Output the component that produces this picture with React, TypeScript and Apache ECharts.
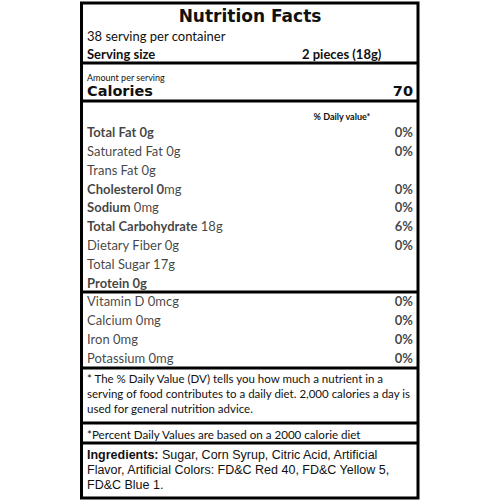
import { useEffect, useRef } from "react";
import * as echarts from "echarts";

// header texts
const title = "Nutrition Facts";
const servingsLine = "38 serving per container";
const servingSize = ["Serving size", "2 pieces (18g)"];
const amountLabel = "Amount per serving";
const calories = ["Calories", "70"];
const dvHeader = "% Daily value*";

// nutrient rows: bold part, regular part, % daily value
const nutrientBold = ["Total Fat 0g", "", "", "Cholesterol 0", "Sodium", "Total Carbohydrate", "", "", "Protein 0g", "", "", "", ""];
const nutrientRest = ["", "Saturated Fat 0g", "Trans Fat 0g", "mg", "0mg", "18g", "Dietary Fiber 0g", "Total Sugar 17g", "", "Vitamin D 0mcg", "Calcium 0mg", "Iron 0mg", "Potassium 0mg"];
const dailyPct = ["0%", "0%", "", "0%", "0%", "6%", "0%", "", "", "0%", "0%", "0%", "0%"];

// footer texts
const footnoteLines = [
  "* The % Daily Value (DV) tells you how much a nutrient in a",
  "serving of food contributes to a daily diet. 2,000 calories a day is",
  "used for general nutrition advice.",
];
const percentNote = "*Percent Daily Values are based on a 2000 calorie diet";
const ingredientsHead = "Ingredients:";
const ingredientsLines = [
  " Sugar, Corn Syrup, Citric Acid, Artificial",
  "Flavor, Artificial Colors: FD&C Red 40, FD&C Yellow 5,",
  "FD&C Blue 1.",
];

const BODY = "Lato, 'Noto Sans', sans-serif";
const HEAVY = "'DejaVu Sans', sans-serif";
const ARIAL = "'Liberation Sans', Arial, sans-serif";
const INK = "#111";
const FS = 13;

export default function App() {
  const ref = useRef<HTMLDivElement>(null);

  useEffect(() => {
    if (!ref.current) return;
    const chart = echarts.init(ref.current, undefined, { renderer: "svg" });

    const rows = nutrientRest.map((_, i) => `r${i}`);
    const txt = (x: number, y: number, text: string, font: Record<string, unknown>, align = "left") => ({
      type: "text", x, y,
      style: { text, fill: INK, align, verticalAlign: "middle", ...font },
    });
    const hline = (y: number) => ({
      type: "line", shape: { x1: 81, y1: y, x2: 418, y2: y },
      style: { stroke: "#000", lineWidth: 3 },
    });

    chart.setOption({
      animation: false,
      backgroundColor: "#fff",
      grid: { left: 87, right: 87, top: 122.6, height: 244.8 },
      xAxis: { type: "value", min: 0, max: 1, show: false },
      yAxis: { type: "category", data: rows, inverse: true, show: false },
      series: [
        {
          type: "scatter", symbolSize: 0.1, itemStyle: { color: "transparent" },
          data: rows.map((r) => [0, r]),
          label: {
            show: true, position: "right", distance: 0, color: INK,
            fontFamily: BODY, fontSize: FS,
            formatter: (p: { dataIndex: number }) => {
              const b = nutrientBold[p.dataIndex];
              const n = nutrientRest[p.dataIndex];
              const sep = b && n && !b.endsWith("0") ? " " : "";
              return (b ? `{b|${b}}` : "") + sep + (n ? `{n|${n}}` : "");
            },
            rich: {
              b: { fontFamily: BODY, fontSize: FS, fontWeight: "bold", color: INK },
              n: { fontFamily: BODY, fontSize: FS, color: INK },
            },
          },
        },
        {
          type: "scatter", symbolSize: 0.1, itemStyle: { color: "transparent" },
          data: rows.map((r) => [1, r]),
          label: {
            show: true, position: "left", distance: 0, color: INK,
            fontFamily: BODY, fontSize: FS, fontWeight: "bold",
            formatter: (p: { dataIndex: number }) => dailyPct[p.dataIndex],
          },
        },
      ],
      graphic: [
        {
          type: "rect", shape: { x: 81.5, y: 3, width: 336.5, height: 495 },
          style: { fill: "none", stroke: "#000", lineWidth: 3 },
        },
        hline(63), hline(101), hline(292), hline(368), hline(423), hline(443),
        txt(250, 16, title, { fontFamily: HEAVY, fontWeight: "bold", fontSize: 17 }, "center"),
        txt(87, 36, servingsLine, { fontFamily: BODY, fontSize: FS }),
        txt(87, 54, servingSize[0], { fontFamily: BODY, fontSize: FS, fontWeight: "bold" }),
        txt(302, 54, servingSize[1], { fontFamily: BODY, fontSize: FS, fontWeight: "bold" }),
        txt(87, 77, amountLabel, { fontFamily: BODY, fontSize: 9 }),
        txt(87, 91, calories[0], { fontFamily: HEAVY, fontWeight: "bold", fontSize: 14.5 }),
        txt(413, 91, calories[1], { fontFamily: HEAVY, fontWeight: "bold", fontSize: 14.5 }, "right"),
        txt(342, 116, dvHeader, { fontFamily: BODY, fontSize: 9, fontWeight: "bold" }, "center"),
        ...footnoteLines.map((l, i) => txt(87, 378 + i * 15, l, { fontFamily: BODY, fontSize: 11.5 })),
        txt(87, 434, percentNote, { fontFamily: BODY, fontSize: 11.6 }),
        {
          type: "text", x: 87, y: 455,
          style: {
            text: `{h|${ingredientsHead}}{n|${ingredientsLines[0]}}`, verticalAlign: "middle",
            rich: {
              h: { fontFamily: ARIAL, fontSize: 12.5, fontWeight: "bold", fill: INK },
              n: { fontFamily: ARIAL, fontSize: 12.5, fill: INK },
            },
          },
        },
        ...ingredientsLines.slice(1).map((l, i) => txt(87, 470 + i * 14.5, l, { fontFamily: ARIAL, fontSize: 12.5 })),
      ],
    });

    return () => chart.dispose();
  }, []);

  return (
    <div
      ref={ref}
      style={{ position: "absolute", left: 0, top: 0, width: 500, height: 500 }}
    />
  );
}
